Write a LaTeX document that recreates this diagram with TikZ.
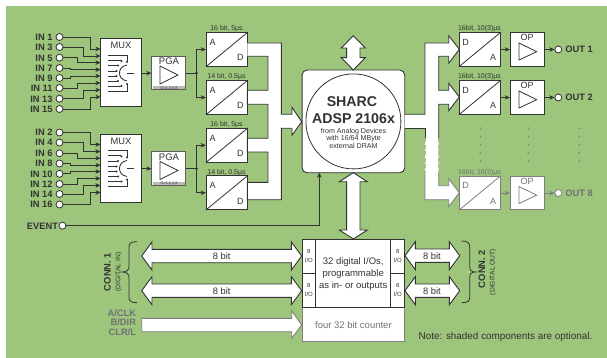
\documentclass[tikz,border=0pt]{standalone}
\usepackage{fontspec}
\setmainfont{Liberation Sans}
\usetikzlibrary{arrows.meta,calc}
\definecolor{bg}{HTML}{9DC57C}
\definecolor{ink}{HTML}{333333}
\definecolor{greyc}{HTML}{7F7F7F}
\definecolor{greytxt}{HTML}{6F7275}
\tikzset{
  lbl/.style={inner sep=0pt,outer sep=0pt,text depth=0pt,text=ink},
  tx/.code={\pgfmathsetmacro\tmph{0.72*#1}\tikzset{lbl,text height/.expanded=\tmph pt,font=\fontsize{#1}{#1}\selectfont}},
  btx/.code={\pgfmathsetmacro\tmph{0.72*#1}\tikzset{lbl,text height/.expanded=\tmph pt,font=\fontsize{#1}{#1}\bfseries\selectfont}},
  inlab/.style={btx=9.3,anchor=east},
  port/.style={circle,draw=ink,fill=white,line width=.8pt,minimum size=7pt,inner sep=0pt},
  boxn/.style={draw=ink,fill=white,line width=1pt,inner sep=0pt,minimum width=#1},
  wire/.style={draw=ink,line width=.8pt,-{Stealth[length=5pt,width=4.5pt,inset=1.5pt]}},
  plainw/.style={draw=ink,line width=.8pt},
  bus/.style={draw=ink,line width=.9pt,fill=white,line join=miter},
}
\newcommand{\hdbl}[6]{% x1 x2 y headlen headhalf shafthalf
  \path[bus] (#1,#3) -- ({#1+#4},{#3-#5}) -- ({#1+#4},{#3-#6}) -- ({#2-#4},{#3-#6}) -- ({#2-#4},{#3-#5}) -- (#2,#3)
   -- ({#2-#4},{#3+#5}) -- ({#2-#4},{#3+#6}) -- ({#1+#4},{#3+#6}) -- ({#1+#4},{#3+#5}) -- cycle;}
\newcommand{\vdbl}[6]{% y1 y2 x headlen headhalf shafthalf
  \path[bus] (#3,#1) -- ({#3-#5},{#1+#4}) -- ({#3-#6},{#1+#4}) -- ({#3-#6},{#2-#4}) -- ({#3-#5},{#2-#4}) -- (#3,#2)
   -- ({#3+#5},{#2-#4}) -- ({#3+#6},{#2-#4}) -- ({#3+#6},{#1+#4}) -- ({#3+#5},{#1+#4}) -- cycle;}
\newcommand{\muxinner}{%
  \draw[ink,line width=.8pt] (108,55)--(127,55)--(127,62);
  \draw[ink,line width=.8pt] (108,91)--(127,91)--(127,84);
  \draw[ink,line width=.8pt] (108,60)--(121,60);
  \draw[ink,line width=.8pt] (108,86)--(121,86);
  \draw[ink,line width=.8pt] (108,65.5)--(118,65.5);
  \draw[ink,line width=.8pt] (108,81)--(118,81);
  \draw[ink,line width=.8pt] (108,71)--(117,71);
  \draw[ink,line width=.8pt] (108,76)--(117,76);
  \draw[ink,line width=.9pt] (127,65) .. controls (121,66) and (119.5,70) .. (119.5,73) .. controls (119.5,76) and (121,80) .. (127,81);
  \draw[ink,line width=.8pt] (127,73)--(134,73);
  \foreach \p in {(127,62),(127,84),(121.5,61),(121.5,86),(118,65.5),(118,81),(116.5,71),(116.5,76)}
    \fill[ink] \p circle (1.2);
}
\begin{document}
\begin{tikzpicture}[x=1pt,y=-1pt]
\useasboundingbox (0,0) rectangle (607,358);
\fill[white] (0,0) rectangle (607,358);
\fill[bg] (6,6) rectangle (607,358);

% inputs
\foreach \n/\y in {1/37,3/47,5/57.7,7/68,9/78,11/88,13/98.7,15/109,2/132.5,4/142.5,6/153.3,8/163.5,10/173.8,12/184,14/194,16/204.5}{
  \node[port] (in\n) at (59.5,\y) {};
  \node[inlab] (inl\n) at (52.5,\y) {IN \n};
}
% MUX boxes
\foreach \m/\dy in {1/0,2/95.5}{
  \begin{scope}[shift={(0,\dy)}]
  \node[boxn=41pt,minimum height=68pt] (mux\m) at (121,73) {};
  \node[tx=9.3] (muxl\m) at (121,45.2) {MUX};
  \muxinner
  \node[draw=ink!80,fill=white,line width=1pt,inner sep=0pt,minimum width=33.5pt,minimum height=33.5pt] (pga\m) at (168.7,73.2) {};
  \node[tx=9.5] (pgal\m) at (169,61.5) {PGA};
  \draw[ink,line width=.8pt] (160,66)--(160,84)--(178,75)--cycle;
  \fill[greyc!55] (153,86) rectangle (185,89.5);
  \node[tx=3.8] (pgag\m) at (169,87.8) {G=1,2,4,8};
  \end{scope}
}
% input wires
\foreach \n/\x/\a/\b in {1/90/49/0,3/83/56/0,5/77/62.7/0,7/70/69.7/0,9/70/76/0,11/77/83/0,13/83/90/0,15/90/97/0,
                         2/90/49/95.5,4/83/56/95.5,6/77/62.7/95.5,8/70/69.7/95.5,10/70/76/95.5,12/77/83/95.5,14/83/90/95.5,16/90/97/95.5}{
  \coordinate (t\n) at (100.5,{\a+\b});
  \draw[wire] (in\n.east) -| (\x,{\a+\b}) -- (t\n);
}
% ADC
\foreach \i/\y/\t/\lx in {1/49.5/{16 bit, 5µs}/226.5,2/97.5/{14 bit, 0.5µs}/226.5,3/145.3/{16 bit, 5µs}/226.5,4/192.8/{14 bit, 0.5µs}/226.5}{
  \node[boxn=41pt,minimum height=33.6pt] (adc\i) at (226.8,\y) {};
  \draw[ink,line width=.8pt] (adc\i.south west)--(adc\i.north east);
  \node[tx=9] (adca\i) at (212.7,{\y-7.5}) {A};
  \node[tx=9] (adcd\i) at (240.3,{\y+8}) {D};
  \node[tx=7] (adcl\i) at (\lx,{\y-21.2}) {\t};
}
% PGA to ADC wires
\foreach \m/\p/\q in {1/adc1/adc2,2/adc3/adc4}{
  \draw[wire] (mux\m.east |- pga\m) -- (pga\m.west);
  \coordinate (j\m) at ($(pga\m.east)+(10.5,0)$);
  \draw[plainw,line width=1.1pt] (pga\m.east) -- (j\m);
  \fill[ink] (j\m) circle (1.5);
  \draw[wire] (j\m) |- (\p.west);
  \draw[wire] (j\m) |- (\q.west);
}
% ADC bus
\path[bus] (247.3,43)--(281.3,43)--(281.3,114.3)--(292,114.3)--(292,107.3)--(301.7,121.7)--(292,135.3)--(292,128.3)--(281.3,128.3)--(281.3,199.7)--(247.3,199.7)
  --(247.3,182.3)--(268,182.3)--(268,152)--(247.3,152)--(247.3,138.3)--(268,138.3)--(268,104.3)--(247.3,104.3)--(247.3,90.3)--(268,90.3)--(268,56.3)--(247.3,56.3);

% SHARC
\node[draw=ink,fill=white,line width=.9pt,rounded corners=5pt,minimum width=102.7pt,minimum height=102.7pt,inner sep=0pt] (sharc) at (353.4,121.4) {};
\node[circle,draw=ink,fill=white,line width=.8pt,minimum size=95pt,inner sep=0pt] (core) at (353.4,121.4) {};
\node[btx=14.2] (s1) at (352,101) {SHARC};
\node[btx=14.2] (s2) at (353.5,118) {ADSP 2106x};
\node[tx=7.1] (s3) at (353.5,130.5) {from Analog Devices};
\node[tx=7.1] (s4) at (353.5,138) {with 16/64 MByte};
\node[tx=7.1] (s5) at (353.5,145.5) {external DRAM};
\vdbl{35.7}{70}{353.3}{12.3}{12}{6.7}
\vdbl{172.7}{239}{353.3}{9}{14}{6.7}

% EVENT
\node[port] (ev) at (62.5,225.7) {};
\node[inlab] (evl) at (58,225.7) {EVENT};
\coordinate (evt) at (319.3,172.7);
\draw[wire] (ev.east) -| (evt);

% DAC chains
\foreach \i/\y/\t/\c/\tc in {1/49.5/OUT 1/ink/ink,2/97.5/OUT 2/ink/ink,8/193/OUT 8/greyc/greytxt}{
  \node[draw=\c,fill=white,line width=1pt,inner sep=0pt,minimum width=41pt,minimum height=33.6pt] (dac\i) at (479.8,\y) {};
  \draw[draw=\c,line width=.8pt] (dac\i.south west)--(dac\i.north east);
  \node[tx=9,text=\tc] (daca\i) at (465.7,{\y-7.5}) {D};
  \node[tx=9,text=\tc] (dacd\i) at (493,{\y+8}) {A};
  \node[tx=7,text=\tc] (dacl\i) at (479.5,{\y-21.2}) {16bit, 10(3)µs};
  \node[draw=\c,fill=white,line width=1pt,inner sep=0pt,minimum width=34.4pt,minimum height=33.6pt] (op\i) at (527.5,\y) {};
  \node[tx=9,text=\tc] (opl\i) at (527,{\y-12}) {OP};
  \draw[draw=\c,line width=.8pt] (519,{\y-6.5})--(519,{\y+10.5})--(536.7,{\y+2.2})--cycle;
  \node[port,draw=\c] (out\i) at (558.3,\y) {};
  \node[btx=9.3,anchor=west,text=\tc] (outl\i) at (565.3,\y) {\t};
  \draw[wire,draw=\c] (dac\i.east) -- (op\i.west);
  \draw[wire,draw=\c] (op\i.east) -- (out\i.west);
}
% Output bus
\fill[white] (404.7,114.3)--(425,114.3)--(425,43)--(448.7,43)--(448.7,35.7)--(459.3,49.3)--(448.7,63.3)--(448.7,56.3)--(438.7,56.3)--(438.7,90.3)--(448.7,90.3)--(448.7,83.3)--(459.3,97)--(448.7,110.7)--(448.7,104.3)--(438.7,104.3)--(438.7,185.7)--(448.7,185.7)--(448.7,178.7)--(459.3,192.7)--(448.7,206.7)--(448.7,199.7)--(425,199.7)--(425,128.3)--(404.7,128.3)--cycle;
\draw[draw=ink,line width=.9pt] (404.7,114.3)--(425,114.3)--(425,43)--(448.7,43)--(448.7,35.7)--(459.3,49.3)--(448.7,63.3)--(448.7,56.3)--(438.7,56.3)--(438.7,90.3)--(448.7,90.3)--(448.7,83.3)--(459.3,97)--(448.7,110.7)--(448.7,104.3)--(438.7,104.3)--(438.7,138.3);
\draw[draw=ink,line width=.9pt] (404.7,128.3)--(425,128.3)--(425,138.3);
\draw[draw=greyc,line width=.9pt] (438.7,173)--(438.7,185.7)--(448.7,185.7)--(448.7,178.7)--(459.3,192.7)--(448.7,206.7)--(448.7,199.7)--(425,199.7)--(425,173);
\draw[draw=greyc!60!white,line width=1pt,dash pattern=on 4pt off 2.5pt] (425,138.3)--(425,173);
\draw[draw=greyc!60!white,line width=1pt,dash pattern=on 4pt off 2.5pt] (438.7,138.3)--(438.7,173);
% dots
\foreach \x in {480.3,528.3,579.3}\foreach \y in {128.3,136.5,144.7,152.9,161}
  \fill[greyc] (\x,\y) circle (1);

% Digital block
\node[draw=greyc,fill=white,line width=1pt,inner sep=0pt,minimum width=102.7pt,minimum height=34pt] (cnt) at (353.4,324.7) {};
\node[tx=9.5,text=greytxt] (cntl) at (353.4,325) {four 32 bit counter};
\node[boxn=102.7pt,minimum height=68.4pt] (dio) at (353.4,273.5) {};
\draw[draw=ink,line width=.9pt] (315.7,239.3)--(315.7,307.7) (390.7,239.3)--(390.7,307.7);
\draw[draw=ink,line width=.9pt] (302,273)--(315.7,273) (390.7,273)--(404.7,273);
\node[tx=9.5] (d1) at (353.2,261) {32 digital I/Os,};
\node[tx=9.5] (d2) at (353.2,273) {programmable};
\node[tx=9.5] (d3) at (353.2,285) {as in- or outputs};
\foreach \k/\x/\y in {a/308.9/251,b/308.9/285,c/397.7/251,d/397.7/285}{
  \node[tx=6] (io\k) at (\x,\y) {8};
  \node[tx=6] (iol\k) at (\x,{\y+9}) {I/O};
}

% connector arrows
\hdbl{141.7}{301.7}{256}{10.3}{14}{6.7}
\hdbl{141.7}{301.7}{290.7}{10.3}{14}{6.7}
\hdbl{405}{459.7}{255.7}{10.3}{14}{6.7}
\hdbl{405}{459.7}{290.7}{10.3}{14}{6.7}
\node[tx=9.3] (b1) at (221.7,256) {8 bit};
\node[tx=9.3] (b2) at (221.7,290.7) {8 bit};
\node[tx=9.3] (b3) at (432,255.7) {8 bit};
\node[tx=9.3] (b4) at (432,290.7) {8 bit};
\path[draw=greyc,line width=.9pt,fill=white] (141.7,318.3)--(291.7,318.3)--(291.7,310.7)--(301.7,325)--(291.7,338.3)--(291.7,331.7)--(141.7,331.7)--cycle;

% braces
\draw[draw=ink,line width=.8pt] (137,241.7) .. controls (131,241.7) and (129,243) .. (129,247) -- (129,266) .. controls (129,270) and (127,272) .. (122,272) .. controls (127,272) and (129,274) .. (129,278) -- (129,297.5) .. controls (129,301) and (131,302.7) .. (137,302.7);
\draw[draw=ink,line width=.8pt] (461.7,241) .. controls (467.7,241) and (469.7,243) .. (469.7,247) -- (469.7,266) .. controls (469.7,270) and (471,272) .. (475.5,272) .. controls (471,272) and (469.7,274) .. (469.7,278) -- (469.7,297.5) .. controls (469.7,301) and (467.7,302.7) .. (461.7,302.7);
\node[btx=9.4,rotate=90] (c1) at (107.3,272) {CONN. 1};
\node[tx=6.7,rotate=90] (c1s) at (118,272) {(DIGITAL IN)};
\node[btx=9.4,rotate=90] (c2) at (481.7,269) {CONN. 2};
\node[tx=6.7,rotate=90] (c2s) at (492.3,272) {(DIGITAL OUT)};

% shaded labels
\node[inlab,text=greytxt] (g1) at (136,312.7) {A/CLK};
\node[inlab,text=greytxt] (g2) at (136,322.3) {B/DIR};
\node[inlab,text=greytxt] (g3) at (136,331.7) {CLR/L};
\node[tx=9.9,anchor=west] (note) at (418.7,335.5) {Note: shaded components are optional.};
\end{tikzpicture}
\end{document}
